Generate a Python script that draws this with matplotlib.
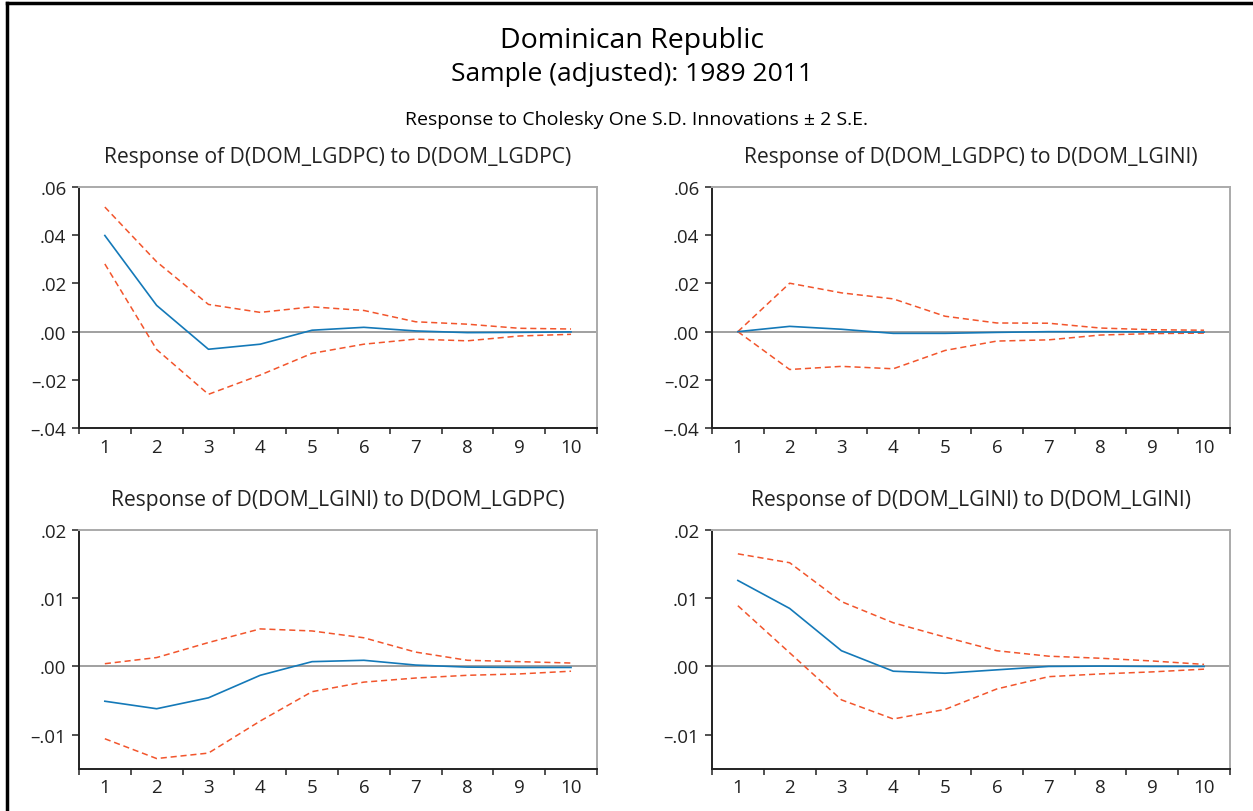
import matplotlib
matplotlib.use("Agg")
import matplotlib.pyplot as plt
from matplotlib.lines import Line2D
from matplotlib.ticker import FixedLocator, FuncFormatter

plt.rcParams['font.family'] = ['Open Sans', 'DejaVu Sans']

periods = [1, 2, 3, 4, 5, 6, 7, 8, 9, 10]

# response of D(DOM_LGDPC) to D(DOM_LGDPC)
gdp_gdp = [0.0399, 0.0109, -0.0073, -0.0052, 0.0006, 0.0018, 0.0003, -0.0004, -0.0003, -0.0001]
gdp_gdp_hi = [0.0517, 0.0290, 0.0113, 0.0080, 0.0103, 0.0088, 0.0041, 0.0031, 0.0014, 0.0011]
gdp_gdp_lo = [0.0281, -0.0074, -0.0260, -0.0180, -0.0090, -0.0052, -0.0031, -0.0038, -0.0018, -0.0011]

# response of D(DOM_LGDPC) to D(DOM_LGINI)
gdp_gini = [0.0, 0.0022, 0.0010, -0.0007, -0.0007, -0.0003, 0.0, 0.0, -0.0001, -0.0002]
gdp_gini_hi = [0.0, 0.0201, 0.0161, 0.0136, 0.0064, 0.0036, 0.0035, 0.0015, 0.0008, 0.0006]
gdp_gini_lo = [0.0, -0.0157, -0.0144, -0.0154, -0.0078, -0.0039, -0.0034, -0.0014, -0.0008, -0.0006]

# response of D(DOM_LGINI) to D(DOM_LGDPC)
gini_gdp = [-0.0051, -0.0062, -0.0046, -0.0013, 0.0007, 0.0009, 0.0002, -0.0001, -0.00015, -0.00015]
gini_gdp_hi = [0.0004, 0.0013, 0.0035, 0.0055, 0.0052, 0.0042, 0.0021, 0.0009, 0.0007, 0.0005]
gini_gdp_lo = [-0.0106, -0.0135, -0.0127, -0.0080, -0.0037, -0.0023, -0.0017, -0.0013, -0.0011, -0.0007]

# response of D(DOM_LGINI) to D(DOM_LGINI)
gini_gini = [0.0126, 0.0085, 0.0023, -0.0007, -0.0010, -0.0005, 0.0, 0.00005, 0.0, 0.0]
gini_gini_hi = [0.0165, 0.0152, 0.0095, 0.0064, 0.0043, 0.0023, 0.0015, 0.0012, 0.0008, 0.0003]
gini_gini_lo = [0.0089, 0.0020, -0.0049, -0.0077, -0.0063, -0.0033, -0.0015, -0.0011, -0.0008, -0.0004]

panels = [
    ('Response of D(DOM_LGDPC) to D(DOM_LGDPC)', gdp_gdp, gdp_gdp_hi, gdp_gdp_lo, (-0.04, 0.06), [-0.04, -0.02, 0.0, 0.02, 0.04, 0.06]),
    ('Response of D(DOM_LGDPC) to D(DOM_LGINI)', gdp_gini, gdp_gini_hi, gdp_gini_lo, (-0.04, 0.06), [-0.04, -0.02, 0.0, 0.02, 0.04, 0.06]),
    ('Response of D(DOM_LGINI) to D(DOM_LGDPC)', gini_gdp, gini_gdp_hi, gini_gdp_lo, (-0.015, 0.02), [-0.01, 0.0, 0.01, 0.02]),
    ('Response of D(DOM_LGINI) to D(DOM_LGINI)', gini_gini, gini_gini_hi, gini_gini_lo, (-0.015, 0.02), [-0.01, 0.0, 0.01, 0.02]),
]

positions = [
    [0.0630, 0.4716, 0.4134, 0.2968],
    [0.5682, 0.4716, 0.4134, 0.2968],
    [0.0630, 0.0520, 0.4134, 0.2941],
    [0.5682, 0.0520, 0.4134, 0.2941],
]


def fmt(v, pos):
    s = f"{abs(v):.2f}".lstrip('0')
    return ('\u2013' + s) if v < -1e-12 else s


blue = '#1479b8'
red = '#f2552c'

fig = plt.figure(figsize=(12.53, 8.12), dpi=100)

# frame around the picture (left and top edges visible)
fig.add_artist(Line2D([0.0056, 0.0056], [0, 0.995], transform=fig.transFigure, color='black', lw=2.5))
fig.add_artist(Line2D([0.0056, 1.0], [0.995, 0.995], transform=fig.transFigure, color='black', lw=2.5))

fig.text(0.504, 0.949, 'Dominican Republic', ha='center', va='center', fontsize=20.5)
fig.text(0.504, 0.908, 'Sample (adjusted): 1989 2011', ha='center', va='center', fontsize=19)
fig.text(0.508, 0.852, 'Response to Cholesky One S.D. Innovations \u00b1 2 S.E.', ha='center', va='center', fontsize=14)

for (title, mid, hi, lo, ylim, yticks), pos in zip(panels, positions):
    ax = fig.add_axes(pos)
    ax.axhline(0, color='#999999', lw=1.3, zorder=1)
    ax.plot(periods, hi, color=red, lw=1.1, ls=(0, (4, 2.5)), zorder=2)
    ax.plot(periods, lo, color=red, lw=1.1, ls=(0, (4, 2.5)), zorder=2)
    ax.plot(periods, mid, color=blue, lw=1.2, zorder=3)
    ax.set_xlim(0.5, 10.5)
    ax.set_ylim(*ylim)
    ax.xaxis.set_major_locator(FixedLocator([i + 0.5 for i in range(0, 11)]))
    ax.xaxis.set_minor_locator(FixedLocator(periods))
    ax.xaxis.set_major_formatter(FuncFormatter(lambda v, p: ''))
    ax.xaxis.set_minor_formatter(FuncFormatter(lambda v, p: f'{int(v)}'))
    ax.tick_params(axis='x', which='major', direction='out', length=4, width=1.2, color='#333333')
    ax.tick_params(axis='x', which='minor', length=0, pad=7, labelsize=13.5, labelcolor='#222222')
    ax.set_yticks(yticks)
    ax.yaxis.set_major_formatter(FuncFormatter(fmt))
    ax.tick_params(axis='y', direction='out', length=5, width=1.2, color='#333333', labelsize=13.5, labelcolor='#222222', pad=4)
    for side in ('left', 'bottom'):
        ax.spines[side].set_color('#222222')
        ax.spines[side].set_linewidth(1.4)
    for side in ('top', 'right'):
        ax.spines[side].set_color('#aaaaaa')
        ax.spines[side].set_linewidth(1.4)
    ax.set_title(title, fontsize=15.2, pad=18, color='#222222')

fig.savefig('out.png', dpi=100)
